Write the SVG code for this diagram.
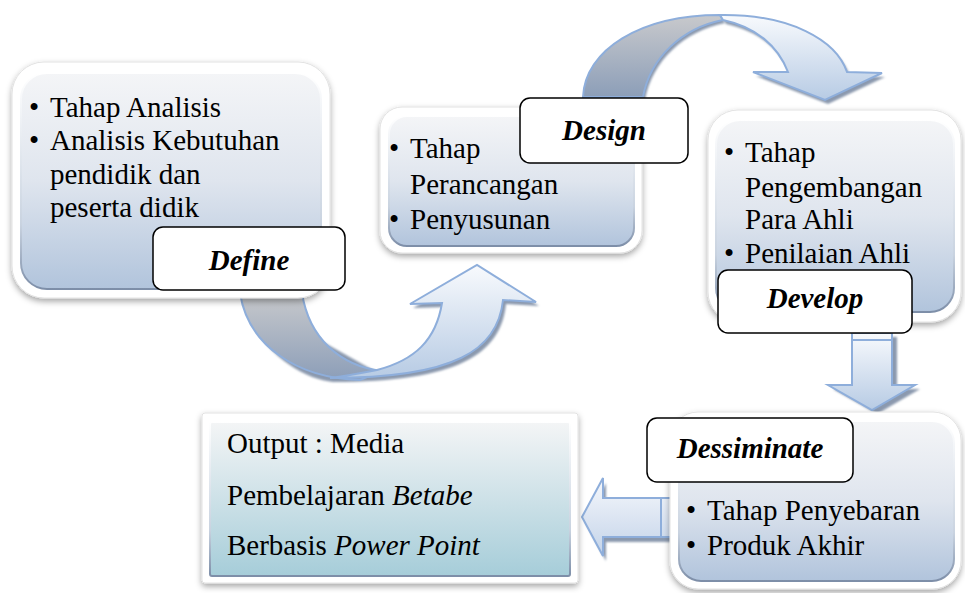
<svg xmlns="http://www.w3.org/2000/svg" width="965" height="593" viewBox="0 0 965 593">
<defs>
<linearGradient id="nodeFill" x1="0" y1="0" x2="0" y2="1">
<stop offset="0" stop-color="#f4f5f7"/><stop offset="0.5" stop-color="#dfe5ee"/><stop offset="1" stop-color="#b1c4dc"/>
</linearGradient>
<linearGradient id="outFill" x1="0" y1="0" x2="0" y2="1">
<stop offset="0" stop-color="#f4f5f6"/><stop offset="1" stop-color="#a6cdd9"/>
</linearGradient>
<linearGradient id="bevel" x1="0" y1="0" x2="0" y2="1">
<stop offset="0" stop-color="#ffffff"/><stop offset="0.7" stop-color="#c9d3e0"/><stop offset="1" stop-color="#7d8ea8"/>
</linearGradient>
<linearGradient id="arrowLight" x1="0" y1="0" x2="0" y2="1">
<stop offset="0" stop-color="#f8fafd"/><stop offset="1" stop-color="#b7cbe4"/>
</linearGradient>
<linearGradient id="arrowGray" x1="0" y1="0" x2="0" y2="1">
<stop offset="0" stop-color="#c8c9cc"/><stop offset="1" stop-color="#8c9eb8"/>
</linearGradient>
<linearGradient id="arrowLeft" x1="0" y1="0" x2="0" y2="1">
<stop offset="0" stop-color="#f6f8fc"/><stop offset="1" stop-color="#c3d3e9"/>
</linearGradient>
<filter id="frameShadow" x="-10%" y="-10%" width="120%" height="125%">
<feDropShadow dx="0" dy="3" stdDeviation="3" flood-color="#000" flood-opacity="0.35"/>
</filter>
<filter id="soft" x="-10%" y="-10%" width="120%" height="120%">
<feGaussianBlur stdDeviation="1"/>
</filter>
</defs>
<style>
.frame{fill:#ffffff;stroke:#e2e2e2;stroke-width:1;filter:url(#frameShadow)}
.inner{fill:url(#nodeFill);stroke:url(#bevel);stroke-width:2}
.innerOut{fill:url(#outFill);stroke:url(#bevel);stroke-width:2}
.label{fill:#ffffff;stroke:#000000;stroke-width:1.5}
.lt{font-family:"Liberation Serif","Times New Roman",serif;font-size:29px;font-weight:bold;font-style:italic;fill:#000;text-anchor:middle}
.t{font-family:"Liberation Serif","Times New Roman",serif;font-size:29px;fill:#000}
.b{font-family:"Liberation Serif","Times New Roman",serif;font-size:29px;fill:#000}
.i{font-style:italic}
.arr{fill:url(#arrowLight);stroke:#8eaedb;stroke-width:2;stroke-linejoin:miter}
.arrG{fill:url(#arrowGray);stroke:#8eaedb;stroke-width:2}
.shd{fill:#8b99ae;filter:url(#soft)}
</style>

<g id="connectors">
  <!-- Define to Design U arrow -->
  <g id="arrow-define-design">
    <path class="shd" transform="translate(3,4)" d="M377,370 C415,360 436,340 442,303 L410,304 L477,265 L536,302 L503,300 C498,350 455,378 330,378 C300,376 250,345 240,293 Z"/>
    <path class="arrG" d="M240,293 L302,293 C309,338 340,366 382,371 L360,380 C296,378 248,345 240,293 Z"/>
    <path class="arr" d="M377,370 C415,360 436,340 442,303 L410,304 L477,265 L536,302 L503,300 C498,350 455,378 330,378 C345,376 362,373 377,370 Z"/>
  </g>
  <!-- Design to Develop arc arrow -->
  <g id="arrow-design-develop">
    <path class="shd" transform="translate(3,4)" d="M720,15 C790,14 836,40 847,72 L882,73 L825,100 L753,72 L788,72 C778,46 756,27 723,20 Z"/>
    <path class="shd" transform="translate(2,3)" d="M583,97 C585,50 640,15 720,15 L723,20 C682,28 650,58 643,97 Z"/>
    <path class="arrG" d="M583,97 C585,50 640,15 720,15 L723,20 C682,28 650,58 643,97 Z"/>
    <path class="arr" d="M720,15 C790,14 836,40 847,72 L882,73 L825,100 L753,72 L788,72 C778,46 756,27 723,20 Z"/>
  </g>
  <!-- Develop to Dessiminate down arrow -->
  <g id="arrow-develop-dessiminate">
    <path class="shd" transform="translate(5,4)" d="M852,333 L892,333 L892,385 L915,385 L872,410 L828,385 L852,385 Z"/>
    <path class="arr" d="M852,333 L892,333 L892,385 L915,385 L872,410 L828,385 L852,385 Z"/>
    <line x1="853" y1="340" x2="891" y2="340" stroke="#8eaedb" stroke-width="2"/>
  </g>
  <!-- Dessiminate to Output left arrow -->
  <g id="arrow-dessiminate-output">
    <path class="shd" transform="translate(3,5)" d="M582,517 L603,478 L603,498 L672,498 L672,537 L603,537 L603,556 Z"/>
    <path style="fill:url(#arrowLeft);stroke:#8eaedb;stroke-width:2" d="M582,517 L603,478 L603,498 L672,498 L672,537 L603,537 L603,556 Z"/>
    <line x1="661" y1="499" x2="661" y2="536" stroke="#8eaedb" stroke-width="2"/>
  </g>
</g>

<g id="node-define">
  <rect class="frame" x="12" y="62" width="318" height="236" rx="32"/>
  <rect class="inner" x="21" y="73" width="300" height="216" rx="26"/>
  <text class="b" x="29" y="117">•</text><text class="t" x="50" y="117">Tahap Analisis</text>
  <text class="b" x="29" y="150">•</text><text class="t" x="50" y="150">Analisis Kebutuhan</text>
  <text class="t" x="50" y="184">pendidik dan</text>
  <text class="t" x="50" y="217">peserta didik</text>
  <rect class="label" x="153" y="227" width="192" height="63" rx="10"/>
  <text class="lt" x="249" y="270">Define</text>
</g>

<g id="node-design">
  <rect class="frame" x="380" y="107" width="262" height="146" rx="22"/>
  <rect class="inner" x="389" y="116" width="245" height="130" rx="18"/>
  <text class="b" x="389" y="158">•</text><text class="t" x="410" y="158">Tahap</text>
  <text class="t" x="410" y="194">Perancangan</text>
  <text class="b" x="389" y="229">•</text><text class="t" x="410" y="229">Penyusunan</text>
  <rect class="label" x="520" y="98" width="168" height="65" rx="10"/>
  <text class="lt" x="604" y="140">Design</text>
</g>

<g id="node-develop">
  <rect class="frame" x="708" y="110" width="253" height="212" rx="30"/>
  <rect class="inner" x="716" y="120" width="238" height="192" rx="24"/>
  <text class="b" x="724" y="162">•</text><text class="t" x="745" y="162">Tahap</text>
  <text class="t" x="745" y="197">Pengembangan</text>
  <text class="t" x="745" y="229">Para Ahli</text>
  <text class="b" x="724" y="263">•</text><text class="t" x="745" y="263">Penilaian Ahli</text>
  <rect class="label" x="718" y="270" width="194" height="63" rx="10"/>
  <text class="lt" x="815" y="308">Develop</text>
</g>

<g id="node-dessiminate">
  <rect class="frame" x="670" y="412" width="291" height="177" rx="28"/>
  <rect class="inner" x="679" y="421" width="275" height="160" rx="22"/>
  <text class="b" x="686" y="520">•</text><text class="t" x="707" y="520">Tahap Penyebaran</text>
  <text class="b" x="686" y="555">•</text><text class="t" x="707" y="555">Produk Akhir</text>
  <rect class="label" x="647" y="418" width="206" height="64" rx="10"/>
  <text class="lt" x="750" y="458">Dessiminate</text>
</g>

<g id="node-output">
  <rect class="frame" x="202" y="413" width="376" height="170" rx="3"/>
  <rect class="innerOut" x="210" y="422" width="360" height="154" rx="2"/>
  <text class="t" x="227" y="453">Output : Media</text>
  <text class="t" x="227" y="505">Pembelajaran <tspan class="i">Betabe</tspan></text>
  <text class="t" x="227" y="555">Berbasis <tspan class="i">Power Point</tspan></text>
</g>
</svg>
